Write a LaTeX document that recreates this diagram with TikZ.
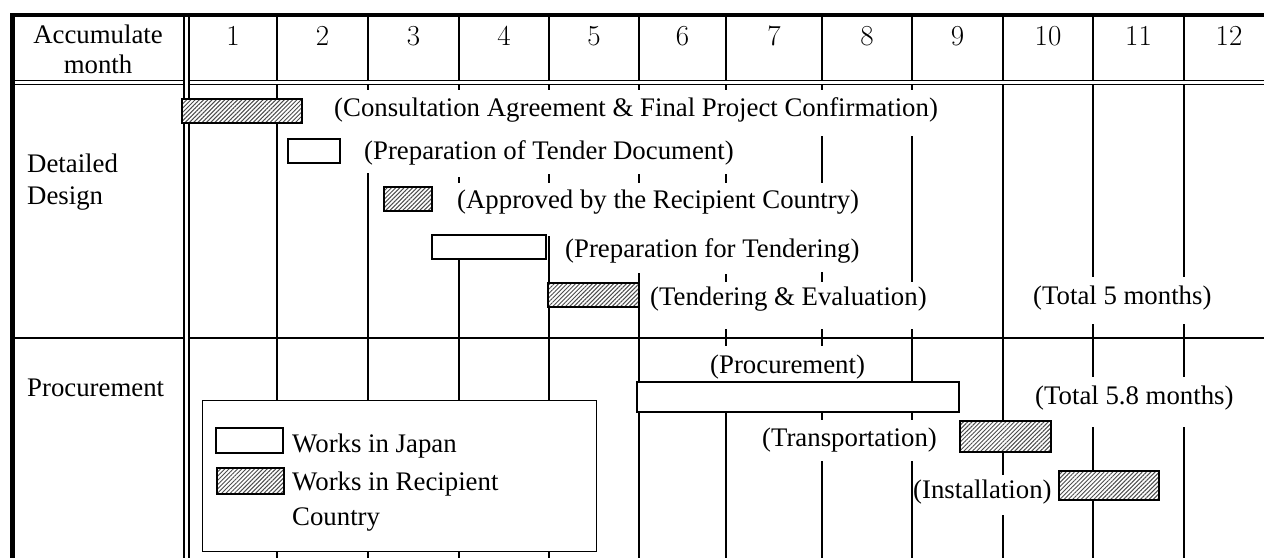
\documentclass[tikz,border=0pt]{standalone}
\usepackage{fontspec}
\setmainfont{Liberation Serif}
\usetikzlibrary{patterns.meta}
\tikzset{
  gridline/.style={line width=2pt},
  bar/.style={draw, line width=2.4pt, fill=white},
  hbar/.style={draw, line width=2.4pt, preaction={fill=white},
    pattern={Lines[angle=45,distance=3pt,line width=1pt]}, pattern color=black!70},
  lbl/.style={anchor=base west, inner sep=0pt, font=\fontsize{26.8}{32}\selectfont},
  hdr/.style={anchor=base, inner sep=0pt, font=\fontsize{26.8}{32}\selectfont},
  num/.style={anchor=base, inner sep=0pt, font=\fontfamily{lmr}\fontsize{29}{34}\selectfont},
}
\begin{document}
\begin{tikzpicture}[x=1pt,y=-1pt]
\useasboundingbox (0,0) rectangle (1264,558);
% ---- frame ----
\draw[line width=3.5pt] (10,15) -- (1264,15);
\draw[line width=4.5pt] (12.5,13.3) -- (12.5,558);
\draw[line width=1.4pt] (184,15) -- (184,558);
\draw[line width=1.4pt] (189,15) -- (189,558);
\foreach \y in {80.5,84.5} {
  \draw[line width=1.4pt] (14,\y) -- (184,\y);
  \draw[line width=1.4pt] (189,\y) -- (1264,\y);
}
\draw[gridline] (14,338) -- (184,338);
\draw[gridline] (189,338) -- (1264,338);
% header column lines
\foreach \x in {277,368,459,549,639,726,822,912,1003,1093,1184}
  \draw[gridline] (\x,15) -- (\x,80);
% body column segments
\foreach \x/\a/\b in {
  277/84/558,
  368/84/90, 368/173/558,
  459/84/90, 459/177/183, 459/240/558,
  549/84/90, 549/174/183, 549/236/558,
  639/84/90, 639/174/183, 639/273/558,
  726/84/90, 726/174/183, 726/274/282, 726/329/346, 726/400/558,
  822/84/90, 822/136/183, 822/272/282, 822/329/346, 822/400/420, 822/461/558,
  912/84/90, 912/136/282, 912/329/420, 912/461/558,
  1003/84/475, 1003/515/558,
  1093/84/277, 1093/324/377, 1093/427/558,
  1184/84/277, 1184/324/377, 1184/427/558}
  \draw[gridline] (\x,\a) -- (\x,\b);
% ---- header texts ----
\node[hdr] (hAcc) at (98,43) {Accumulate};
\node[hdr] (hMon) at (98,73) {month};
\foreach \c/\t in {233/1,322.5/2,413.5/3,504/4,594/5,682.5/6,774/7,867/8,957.5/9,1048/10,1138.5/11,1229/12}
  \node[num] (m\t) at (\c,45) {\t};
% ---- row labels ----
\node[lbl] (rDet) at (27,172) {Detailed};
\node[lbl] (rDes) at (27,204) {Design};
\node[lbl] (rPro) at (27,396) {Procurement};
% ---- bars ----
\draw[hbar] (182,99) rectangle (302,123);
\draw[bar]  (288,139) rectangle (340,163);
\draw[hbar] (384,187) rectangle (432,211);
\draw[bar]  (432,235) rectangle (546,259);
\draw[hbar] (548,283) rectangle (639,307);
\draw[bar]  (637,382) rectangle (959,412);
\draw[hbar] (960,421) rectangle (1051,452);
\draw[hbar] (1059,471) rectangle (1159,500);
% ---- bar labels ----
\node[lbl] (t1) at (334,116) {(Consultation Agreement \& Final Project Confirmation)};
\node[lbl] (t2) at (364,159.5) {(Preparation of Tender Document)};
\node[lbl] (t3) at (457,208.5) {(Approved by the Recipient Country)};
\node[lbl] (t4) at (565,257) {(Preparation for Tendering)};
\node[lbl] (t5) at (650,305.5) {(Tendering \& Evaluation)};
\node[lbl] (t6) at (1033,304) {(Total 5 months)};
\node[lbl] (t7) at (710,373) {(Procurement)};
\node[lbl] (t8) at (1035,404) {(Total 5.8 months)};
\node[lbl] (t9) at (762,446) {(Transportation)};
\node[lbl] (t10) at (913,498) {(Installation)};
% ---- legend ----
\draw[line width=1pt, fill=white] (202,400) rectangle (596,551);
\draw[bar]  (216,428) rectangle (283,453);
\draw[hbar] (217,468) rectangle (284,494);
\node[lbl] (l1) at (292,452) {Works in Japan};
\node[lbl] (l2) at (292,490) {Works in Recipient};
\node[lbl] (l3) at (292,525) {Country};
\end{tikzpicture}
\end{document}
